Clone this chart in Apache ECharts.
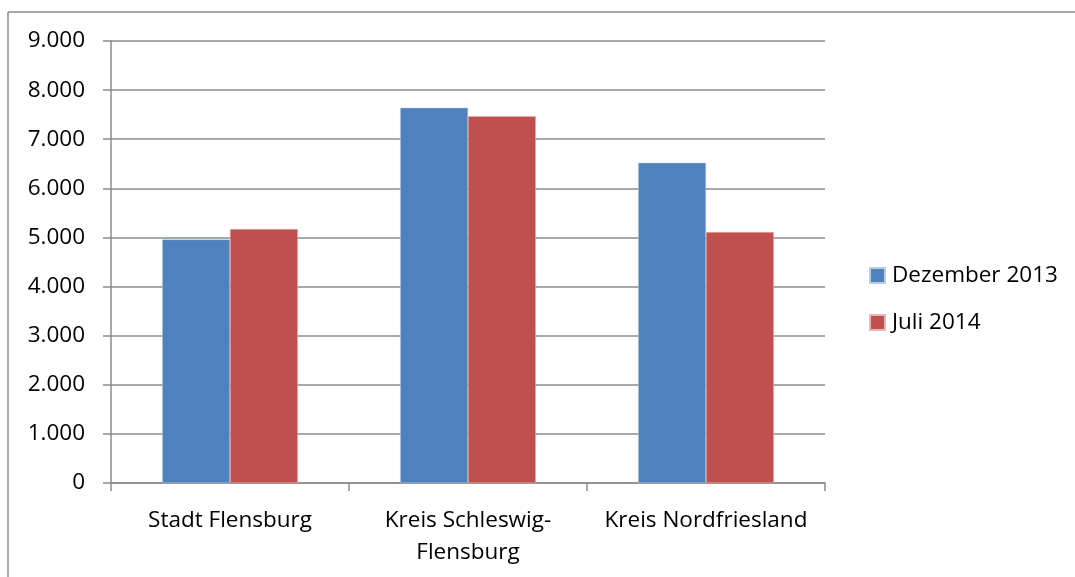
<!DOCTYPE html>
<html>
<head>
<meta charset="utf-8">
<script src="https://cdn.jsdelivr.net/npm/echarts@6/dist/echarts.min.js"></script>
<style>
html,body{margin:0;padding:0;background:#fff;}
#c{width:1075px;height:577px;}
</style>
</head>
<body>
<div id="c"></div>
<script>
const categories = ["Stadt Flensburg", "Kreis Schleswig-Flensburg", "Kreis Nordfriesland"];
const seriesNames = ["Dezember 2013", "Juli 2014"];
const dez2013 = [4960, 7640, 6520];
const juli2014 = [5170, 7470, 5110];
const yTicks = [0, 1000, 2000, 3000, 4000, 5000, 6000, 7000, 8000, 9000];

const FONT = "'Open Sans', sans-serif";
const FS = 22.5;
const chart = echarts.init(document.getElementById('c'), null, {renderer: 'canvas'});
chart.setOption({
  animation: false,
  backgroundColor: '#fff',
  textStyle: {fontFamily: FONT},
  graphic: [
    {type: 'line', shape: {x1: 8, y1: 12, x2: 1075, y2: 12}, style: {stroke: '#8c8c8c', lineWidth: 1.5}},
    {type: 'line', shape: {x1: 8, y1: 12, x2: 8, y2: 577}, style: {stroke: '#8c8c8c', lineWidth: 1.5}}
  ],
  grid: {left: 111, right: 250, top: 41, bottom: 94, containLabel: false},
  legend: {
    orient: 'vertical',
    left: 864,
    top: 259,
    itemWidth: 15,
    itemHeight: 15,
    itemGap: 24,
    icon: 'rect',
    textStyle: {fontSize: FS, color: '#000', fontFamily: FONT, padding: [0, 0, 0, 2]},
    data: seriesNames
  },
  xAxis: {
    type: 'category',
    data: categories,
    axisLine: {lineStyle: {color: '#8c8c8c', width: 1.5}},
    axisTick: {show: true, length: 8, lineStyle: {color: '#8c8c8c', width: 1.5}},
    axisLabel: {
      interval: 0, hideOverlap: false,
      fontSize: FS, color: '#000', fontFamily: FONT, margin: 22, lineHeight: 32,
      formatter: v => v.replace('Schleswig-', 'Schleswig-\n')
    }
  },
  yAxis: {
    type: 'value',
    min: 0,
    max: 9000,
    interval: 1000,
    axisLine: {show: true, lineStyle: {color: '#8c8c8c', width: 1.5}},
    axisTick: {show: true, length: 8, lineStyle: {color: '#8c8c8c', width: 1.5}},
    splitLine: {lineStyle: {color: '#8c8c8c', width: 1.5}},
    axisLabel: {
      fontSize: FS, color: '#000', fontFamily: FONT, margin: 26,
      formatter: v => yTicks.includes(v) ? (v === 0 ? '0' : (v / 1000).toFixed(3)) : ''
    }
  },
  series: [
    {name: seriesNames[0], type: 'bar', data: dez2013, barGap: '0%', barCategoryGap: '43%',
     itemStyle: {color: '#4f81bd', borderColor: '#b9cde5', borderWidth: 0.5}},
    {name: seriesNames[1], type: 'bar', data: juli2014,
     itemStyle: {color: '#c0504d', borderColor: '#e6b9b8', borderWidth: 0.5}}
  ]
});
</script>
</body>
</html>
